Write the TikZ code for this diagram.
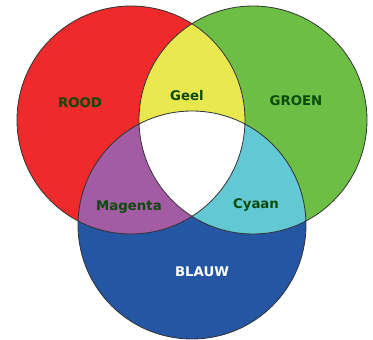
\documentclass[tikz,border=0pt]{standalone}
\usepackage{fontspec}
\setmainfont{DejaVu Sans}
\definecolor{cred}{HTML}{EE2A2A}
\definecolor{cgreen}{HTML}{6DBE45}
\definecolor{cblue}{HTML}{2556A3}
\definecolor{cyellow}{HTML}{EAE84F}
\definecolor{cmagenta}{HTML}{A35BA3}
\definecolor{ccyan}{HTML}{62C8D4}
\definecolor{ctext}{HTML}{0B4A0B}
\definecolor{cline}{HTML}{333333}
\begin{document}
\begin{tikzpicture}[x=1pt,y=-1pt,
  outline/.style={draw=cline,line width=0.8pt},
  lbl/.style={font=\fontsize{13.3}{15}\selectfont\bfseries,text=ctext,anchor=base,inner sep=0pt}]
\useasboundingbox[fill=white] (0,0) rectangle (373,340);
\coordinate (R) at (131,120);
\coordinate (G) at (253,120);
\coordinate (B) at (192,225);
\fill[cred] (R) circle[radius=114];
\fill[cgreen] (G) circle[radius=114];
\fill[cblue] (B) circle[radius=114];
\begin{scope}
  \clip (R) circle[radius=114];
  \fill[cyellow] (G) circle[radius=114];
  \fill[cmagenta] (B) circle[radius=114];
\end{scope}
\begin{scope}
  \clip (G) circle[radius=114];
  \clip (B) circle[radius=114];
  \fill[ccyan] (0,0) rectangle (373,340);
  \clip (R) circle[radius=114];
  \fill[white] (0,0) rectangle (373,340);
\end{scope}
\draw[outline] (R) circle[radius=114];
\draw[outline] (G) circle[radius=114];
\draw[outline] (B) circle[radius=114];
\node[lbl] (rood) at (80,107) {ROOD};
\node[lbl] (geel) at (187,100) {Geel};
\node[lbl] (groen) at (296,105.5) {GROEN};
\node[lbl] (magenta) at (129,210.5) {Magenta};
\node[lbl] (cyaan) at (256,208) {Cyaan};
\node[lbl,text=white] (blauw) at (202,276.5) {BLAUW};
\end{tikzpicture}
\end{document}
